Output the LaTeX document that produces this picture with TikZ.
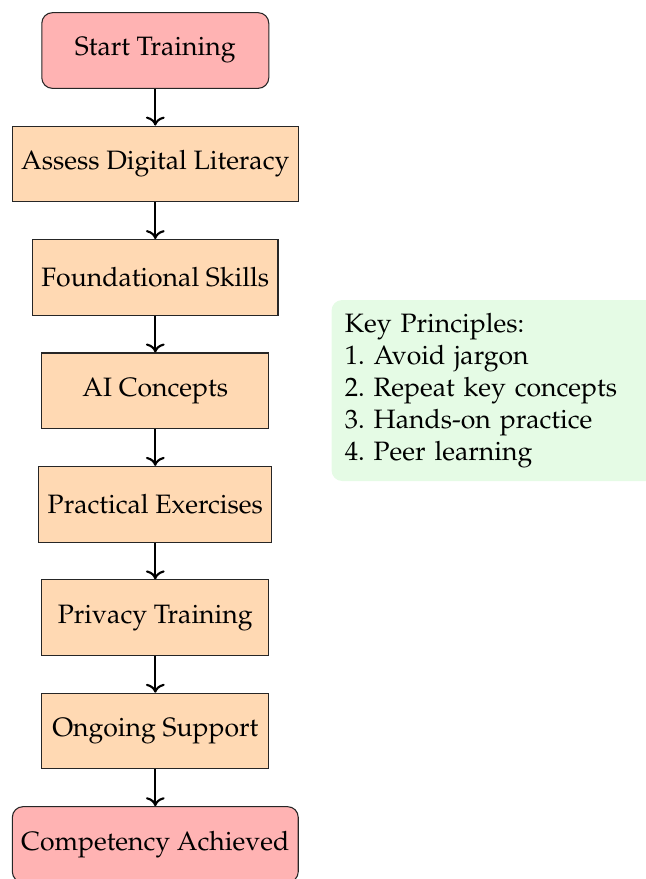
\documentclass[tikz,border=0pt]{standalone}
\usepackage[T1]{fontenc}
\usepackage{mathpazo}
\usetikzlibrary{arrows.meta}
\definecolor{startcol}{RGB}{255,179,179}
\definecolor{stepcol}{RGB}{255,217,179}
\definecolor{notecol}{RGB}{229,251,229}
\tikzset{
  stepbox/.style={draw=black!85, line width=0.4pt, fill=stepcol, minimum width=3cm, minimum height=1cm, align=center, inner sep=0.3333em},
  endbox/.style={stepbox, fill=startcol, rounded corners=4pt},
  notebox/.style={fill=notecol, rounded corners=4pt, text width=4cm, align=left, inner sep=5pt, anchor=west},
  flow/.style={->, thick}
}
\begin{document}
\begin{tikzpicture}[x=0.376pt,y=-0.376pt]
\useasboundingbox (0,0) rectangle (646,879);
\node[endbox]  (start)  at (155.3,50.5)  {Start Training};
\node[stepbox] (assess) at (155.3,163.9) {Assess Digital Literacy};
\node[stepbox] (found)  at (155.3,277.4) {Foundational Skills};
\node[stepbox] (ai)     at (155.3,390.8) {AI Concepts};
\node[stepbox] (prac)   at (155.3,504.2) {Practical Exercises};
\node[stepbox] (priv)   at (155.3,617.7) {Privacy Training};
\node[stepbox] (ongo)   at (155.3,731.1) {Ongoing Support};
\node[endbox]  (comp)   at (155.3,844.5) {Competency Achieved};
\node[notebox] (note)   at (331,390.5) {\frenchspacing Key Principles:\\1. Avoid jargon\\2. Repeat key concepts\\3. Hands-on practice\\4. Peer learning};
\draw[flow] (start) -- (assess);
\draw[flow] (assess) -- (found);
\draw[flow] (found) -- (ai);
\draw[flow] (ai) -- (prac);
\draw[flow] (prac) -- (priv);
\draw[flow] (priv) -- (ongo);
\draw[flow] (ongo) -- (comp);
\end{tikzpicture}
\end{document}
